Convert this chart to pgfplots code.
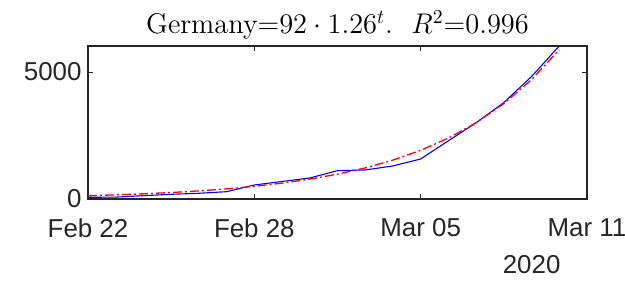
\documentclass[border=0pt]{standalone}
\usepackage{graphicx}
\usepackage{fontspec}
\newfontfamily\helv{Liberation Sans}
\usepackage{pgfplots}
\pgfplotsset{compat=1.18}
\definecolor{axgray}{gray}{0.15}
\begin{document}
\begin{tikzpicture}
\begin{axis}[
  scale only axis,
  width=499bp, height=153bp,
  xmin=0, xmax=18, ymin=0, ymax=6020,
  axis line style={axgray, line width=1.2bp},
  every tick/.style={axgray, line width=0.8bp},
  tick align=inside,
  major tick length=5bp,
  xtick={0,6,12,18},
  xticklabels={Feb 22,Feb 28,Mar 05,Mar 11},
  ytick={0,5000},
  yticklabels={0,5000},
  ticklabel style={font=\helv\fontsize{26}{28}\selectfont, text=axgray},
  xticklabel style={yshift=-16bp},
  yticklabel style={xshift=-3bp},
  title={\scalebox{1.98}{\Large Germany=$92\cdot 1.26^{t}$.\ \ $R^2$=0.996}},
  title style={yshift=-3bp},
  clip=false,
]
\addplot[blue, line width=1.1bp] coordinates {
(0,67) (1,75) (2,130) (3,185) (4,225) (5,288) (6,551) (7,690) (8,827)
(9,1115) (10,1142) (11,1300) (12,1575) (13,2290) (14,3000) (15,3794)
(16,4819) (17,6020)};
\addplot[red, line width=1.3bp, dash pattern=on 9bp off 3bp on 2bp off 3bp] coordinates {
(0,130) (1,162.7) (2,203.6) (3,254.7) (4,318.7) (5,398.8) (6,499) (7,624.4)
(8,781.3) (9,977.6) (10,1223) (11,1531) (12,1915) (13,2397) (14,2999)
(15,3753) (16,4696) (17,5876)};
\node[font=\helv\fontsize{26}{28}\selectfont, text=axgray] at (rel axis cs:0.889,-0.428) {2020};
\end{axis}
\pgfresetboundingbox
\useasboundingbox ([xshift=-88bp,yshift=-82bp]current axis.south west) rectangle ([xshift=38bp,yshift=46bp]current axis.north east);
\end{tikzpicture}
\end{document}
